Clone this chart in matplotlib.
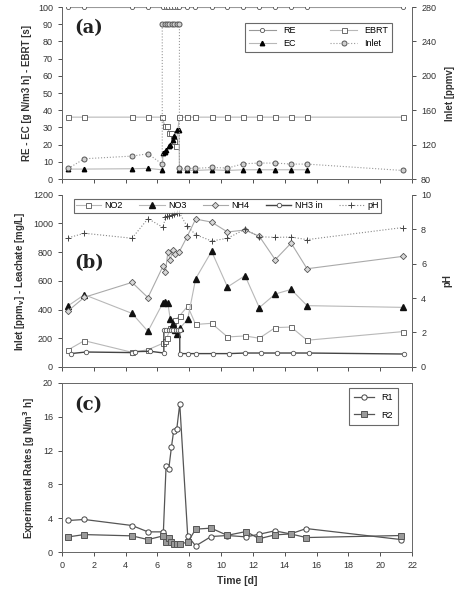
import matplotlib

matplotlib.use("Agg")
import matplotlib.pyplot as plt

plt.rcParams["font.family"] = ["Liberation Sans", "DejaVu Sans"]

# ---- panel (a) ----
t_a = [0.4, 1.4, 4.4, 5.4, 6.35, 6.52, 6.69, 6.86, 7.03, 7.2, 7.38, 7.85, 8.35,
       9.4, 10.4, 11.4, 12.4, 13.4, 14.4, 15.4, 21.4]
re = [100, 100, 100, 100, 100, 100, 100, 100, 100, 100, 100, 100, 100,
      100, 100, 100, 100, 100, 100, 100, 100]

ebrt_t = [0.4, 1.4, 4.4, 5.4, 6.3, 6.45, 6.6, 6.75, 6.85, 6.95, 7.05, 7.15, 7.38,
          7.85, 8.35, 9.4, 10.4, 11.4, 12.4, 13.4, 14.4, 15.4, 21.4]
ebrt = [36, 36, 36, 36, 36, 31, 31, 27, 27, 24, 22, 19.5, 36,
        36, 36, 36, 36, 36, 36, 36, 36, 36, 36]

ec_t = [0.4, 1.4, 4.4, 5.4, 6.3, 6.35, 6.45, 6.55, 6.7, 6.8, 6.95, 7.05, 7.2, 7.35,
        7.38, 7.85, 8.35, 9.4, 10.4, 11.4, 12.4, 13.4, 14.4, 15.4]
ec = [5.8, 5.8, 6.0, 6.2, 5.4, 14.9, 15.9, 16.8, 19.3, 20.0, 22.6, 25.3, 28.4, 28.8,
      5.4, 5.0, 5.0, 5.4, 5.0, 5.4, 5.4, 5.4, 5.4, 5.4]

inlet_t = [0.4, 1.4, 4.4, 5.4, 6.3, 6.3, 6.45, 6.6, 6.75, 6.9, 7.05, 7.2, 7.38,
           7.38, 7.85, 8.35, 9.4, 10.4, 11.4, 12.4, 13.4, 14.4, 15.4, 21.4]
inlet = [92.4, 103.6, 106.7, 109.4, 97.4, 260, 260, 260, 260, 260, 260, 260, 260,
         92.4, 92.4, 92.4, 93.5, 92.8, 97.8, 98.6, 98.6, 97.4, 97.4, 90]

# ---- panel (b) ----
no2_t = [0.4, 1.4, 4.4, 5.4, 6.35, 6.5, 6.6, 6.8, 6.95, 7.1, 7.4, 7.9, 8.4,
         9.4, 10.4, 11.5, 12.4, 13.4, 14.4, 15.4, 21.4]
no2 = [120, 183, 102, 120, 165, 183, 205, 270, 305, 325, 358, 423, 296,
       304, 209, 216, 200, 274, 278, 186, 246]

no3_t = [0.4, 1.4, 4.4, 5.4, 6.35, 6.5, 6.65, 6.8, 6.95, 7.1, 7.25, 7.4, 7.9, 8.4,
         9.4, 10.4, 11.5, 12.4, 13.4, 14.4, 15.4, 21.4]
no3 = [427, 503, 373, 248, 448, 455, 445, 334, 297, 257, 232, 269, 332, 615,
       805, 557, 636, 413, 508, 540, 427, 415]

nh4_t = [0.4, 1.4, 4.4, 5.4, 6.35, 6.5, 6.65, 6.8, 6.95, 7.1, 7.35, 7.85, 8.4,
         9.4, 10.4, 11.5, 12.4, 13.4, 14.4, 15.4, 21.4]
nh4 = [392, 485, 589, 483, 703, 662, 798, 747, 812, 787, 798, 905, 1030,
       1009, 940, 954, 910, 747, 863, 684, 770]

nh3_t = [0.55, 1.5, 4.4, 4.6, 5.55, 6.4, 6.4, 6.55, 6.7, 6.85, 7.0, 7.15, 7.3, 7.4,
         7.4, 7.9, 8.4, 9.5, 10.5, 11.5, 12.5, 13.5, 14.5, 15.5, 21.5]
nh3 = [93, 104, 100, 107, 109, 97, 260, 260, 260, 260, 260, 260, 260, 260,
       93, 93, 93, 93, 93, 97, 97, 97, 97, 97, 90]

ph_t = [0.4, 1.4, 4.4, 5.4, 6.35, 6.5, 6.6, 6.75, 6.9, 7.05, 7.2, 7.38, 7.85, 8.4,
        9.4, 10.4, 11.5, 12.4, 13.4, 14.4, 15.4, 21.4]
ph = [7.5, 7.76, 7.47, 8.61, 8.1, 8.7, 8.75, 8.78, 8.8, 8.85, 8.96, 8.94, 8.18, 7.68,
      7.31, 7.47, 7.99, 7.56, 7.52, 7.54, 7.39, 8.09]

# ---- panel (c) ----
t_c = [0.4, 1.4, 4.4, 5.4, 6.37, 6.54, 6.71, 6.88, 7.02, 7.21, 7.4, 7.9, 8.4,
       9.37, 10.38, 11.57, 12.39, 13.37, 14.36, 15.35, 21.32]
r1 = [3.75, 3.87, 3.16, 2.41, 2.41, 10.16, 9.84, 12.45, 14.35, 14.5, 17.5, 1.94, 0.75,
      1.86, 1.98, 1.82, 2.13, 2.53, 2.17, 2.8, 1.5]
r2 = [1.82, 2.09, 1.94, 1.5, 1.94, 1.26, 1.74, 1.26, 0.95, 0.99, 0.99, 1.19, 2.73,
      2.85, 2.0, 2.45, 1.6, 2.05, 2.17, 1.74, 1.98]

LIGHT = "#b8b8b8"
EDGE = "#555555"
TXT = "#333333"
TICK_FS = 6.5
LAB_FS = 7


def style_axis(ax):
  ax.tick_params(direction="out", length=3, width=0.6, colors=TXT, labelsize=TICK_FS)
  for s in ax.spines.values():
    s.set_color("#666666")
    s.set_linewidth(0.7)


fig = plt.figure(figsize=(4.68, 5.89), dpi=100)
L, W = 0.1325, 0.748

# (a)
ax_a = fig.add_axes([L, 0.696, W, 0.292])
ax_a2 = ax_a.twinx()
h_re, = ax_a.plot(t_a, re, color="#999999", lw=0.8, marker="o", ms=3,
                  mfc="white", mec=EDGE, mew=0.6, label="RE")
h_ebrt, = ax_a.plot(ebrt_t, ebrt, color=LIGHT, lw=0.8, marker="s", ms=3.6,
                    mfc="white", mec=EDGE, mew=0.6, label="EBRT")
h_ec, = ax_a.plot(ec_t, ec, color=LIGHT, lw=0.8, marker="^", ms=3.2,
                  mfc="black", mec="black", label="EC")
h_in, = ax_a2.plot(inlet_t, inlet, color="#999999", lw=0.8, ls=":", marker="o", ms=3.6,
                   mfc="#d0d0d0", mec=EDGE, mew=0.7, label="Inlet")
ax_a.set_xlim(0, 22)
ax_a.set_ylim(0, 100)
ax_a.set_yticks(range(0, 101, 10))
ax_a.set_xticks(range(0, 23, 2))
ax_a.set_xticklabels([])
ax_a2.set_ylim(80, 280)
ax_a2.set_yticks(range(80, 281, 40))
ax_a.set_ylabel("RE - EC [g N/m3 h] - EBRT [s]", fontsize=LAB_FS, fontweight="bold", color=TXT)
ax_a2.set_ylabel("Inlet [ppmv]", fontsize=LAB_FS, fontweight="bold", color=TXT, labelpad=6)
for ax in (ax_a, ax_a2):
  style_axis(ax)
  ax.spines["top"].set_visible(False)
ax_a.text(0.035, 0.88, "(a)", transform=ax_a.transAxes, fontsize=13, fontweight="bold",
          family="DejaVu Serif", color="#222222", va="center")
leg = ax_a2.legend([h_re, h_ec, h_ebrt, h_in], ["RE", "EC", "EBRT", "Inlet"], ncol=2,
                   loc="upper right", bbox_to_anchor=(0.955, 0.935), fontsize=6.5,
                   frameon=True, fancybox=False, edgecolor="#444444", columnspacing=3.8,
                   handlelength=3, borderpad=0.4, labelspacing=0.4)
leg.get_frame().set_linewidth(0.8)

# (b)
ax_b = fig.add_axes([L, 0.377, W, 0.2925])
ax_b2 = ax_b.twinx()
h_no2, = ax_b.plot(no2_t, no2, color=LIGHT, lw=0.8, marker="s", ms=3.6,
                   mfc="white", mec=EDGE, mew=0.6, label="NO2")
h_no3, = ax_b.plot(no3_t, no3, color=LIGHT, lw=0.8, marker="^", ms=4.2,
                   mfc="#111111", mec="#111111", label="NO3")
h_nh4, = ax_b.plot(nh4_t, nh4, color="#aaaaaa", lw=0.8, marker="D", ms=3.2,
                   mfc="#d8d8d8", mec=EDGE, mew=0.6, label="NH4")
h_nh3, = ax_b.plot(nh3_t, nh3, color="#444444", lw=1.0, marker="o", ms=3.2,
                   mfc="white", mec=EDGE, mew=0.6, label="NH3 in")
h_ph, = ax_b2.plot(ph_t, ph, color="#888888", lw=0.8, ls=":", marker="+", ms=4,
                   mec="#444444", mew=0.7, label="pH")
ax_b.set_xlim(0, 22)
ax_b.set_ylim(0, 1200)
ax_b.set_yticks(range(0, 1201, 200))
ax_b.set_xticks(range(0, 23, 2))
ax_b.set_xticklabels([])
ax_b2.set_ylim(0, 10)
ax_b2.set_yticks(range(0, 11, 2))
ax_b.set_ylabel("Inlet [ppm$_\\mathbf{v}$] - Leachate [mg/L]", fontsize=LAB_FS,
                fontweight="bold", color=TXT)
ax_b2.set_ylabel("pH", fontsize=LAB_FS, fontweight="bold", color=TXT, labelpad=8)
for ax in (ax_b, ax_b2):
  style_axis(ax)
  ax.spines["top"].set_visible(False)
ax_b.text(0.035, 0.6, "(b)", transform=ax_b.transAxes, fontsize=13, fontweight="bold",
          family="DejaVu Serif", color="#222222", va="center")
leg = ax_b2.legend([h_no2, h_no3, h_nh4, h_nh3, h_ph], ["NO2", "NO3", "NH4", "NH3 in", "pH"],
                   ncol=5, loc="upper left", bbox_to_anchor=(0.02, 1.0), fontsize=6.5,
                   frameon=True, fancybox=False, edgecolor="#444444", columnspacing=1.8,
                   handlelength=2.8, handletextpad=0.4, borderpad=0.25)
leg.get_frame().set_linewidth(0.8)

# (c)
ax_c = fig.add_axes([L, 0.0623, W, 0.288])
h_r1, = ax_c.plot(t_c, r1, color="#555555", lw=0.9, marker="o", ms=3.8,
                  mfc="white", mec="#444444", mew=0.7, label="R1")
h_r2, = ax_c.plot(t_c, r2, color="#555555", lw=0.9, marker="s", ms=3.8,
                  mfc="#9a9a9a", mec="#555555", mew=0.7, label="R2")
ax_c.set_xlim(0, 22)
ax_c.set_ylim(0, 20)
ax_c.set_yticks(range(0, 21, 4))
ax_c.set_xticks(range(0, 23, 2))
style_axis(ax_c)
ax_c.set_ylabel("Experimental Rates [g N/m$^\\mathbf{3}$ h]", fontsize=LAB_FS,
                fontweight="bold", color=TXT)
ax_c.set_xlabel("Time [d]", fontsize=LAB_FS + 0.5, fontweight="bold", color=TXT)
ax_c.text(0.035, 0.87, "(c)", transform=ax_c.transAxes, fontsize=13, fontweight="bold",
          family="DejaVu Serif", color="#222222", va="center")
leg = ax_c.legend(loc="upper right", bbox_to_anchor=(0.974, 0.995), fontsize=6.5,
                  frameon=True, fancybox=False, edgecolor="#444444",
                  handlelength=2.2, borderpad=0.6, labelspacing=0.9)
leg.get_frame().set_linewidth(0.8)

fig.savefig("out.png", dpi=100)
